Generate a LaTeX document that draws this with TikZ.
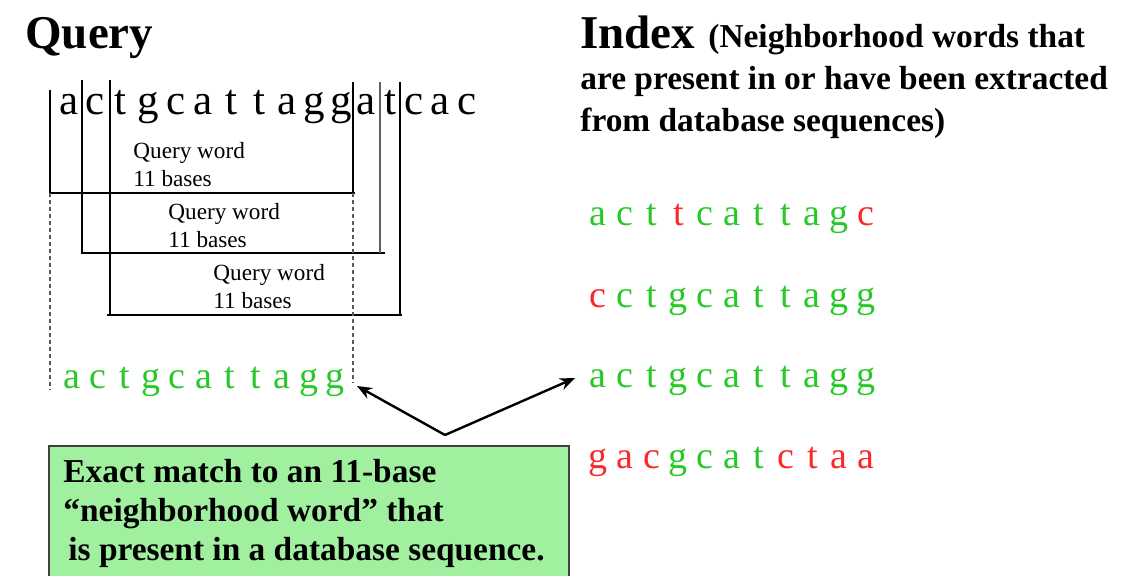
\documentclass[tikz,border=0pt]{standalone}
\usepackage{fontspec}
\setmainfont{Liberation Serif}
\usetikzlibrary{arrows.meta}
\definecolor{ok}{RGB}{40,200,40}
\definecolor{bad}{RGB}{250,40,40}
\definecolor{boxgreen}{RGB}{160,240,160}

\begin{document}
\begin{tikzpicture}[x=0.5pt,y=-0.5pt,
	title/.style={anchor=base west,inner sep=0,font=\fontsize{23.5}{28}\selectfont\bfseries},
	note/.style={anchor=base west,inner sep=0,font=\fontsize{16.7}{20}\selectfont\bfseries},
	base/.style={anchor=base,inner sep=0,font=\fontsize{21.5}{24}\selectfont},
	dbbase/.style={anchor=base,inner sep=0,font=\fontsize{19}{22}\selectfont},
	wordlbl/.style={anchor=base west,inner sep=0,font=\fontsize{11.6}{14}\selectfont},
	bar/.style={line width=0.7pt},
	guide/.style={line width=0.7pt,gray!70!black,dash pattern=on 2pt off 1.5pt},
	link/.style={line width=1.2pt,-{Stealth[length=7.5pt,width=6pt]}}]
				\useasboundingbox (0,0) rectangle (1137,575);
				\clip (0,0) rectangle (1137,575);
				% titles
				\node[title] (qtitle) at (25,48) {Query};
				\node[title] (ititle) at (580,48) {Index};
				\node[note] (note1) at (708,47) {(Neighborhood words that};
				\node[note] (note2) at (580,89) {are present in or have been extracted};
				\node[note] (note3) at (580,131) {from database sequences)};
				% query sequence
				\foreach \l/\x [count=\i] in {a/69,c/95,t/120,g/148,c/176,a/203,t/231,t/259,a/287,g/314,g/341,a/366,t/390,c/414,a/440,c/467}
					\node[base] (s\i) at (\x,114) {\l};
				% query word frames
				\draw[bar] (50,90) -- (50,193) -- (355,193);
				\draw[bar] (353,82) -- (353,193);
				\draw[bar] (82,80) -- (82,253) -- (385,253);
				\draw[line width=1.4pt,gray!75!black] (380,82) -- (380,253);
				\draw[bar] (110,80) -- (110,315);
				\draw[bar] (107,315) -- (402,315);
				\draw[bar] (400,82) -- (400,315);
				\draw[guide] (50,193) -- (50,390);
				\draw[guide] (353,193) -- (353,383);
				\foreach \x/\y [count=\i] in {133/158,168/219,213/280}{
					\node[wordlbl] (qw\i) at (\x,\y) {Query word};
					\node[wordlbl] (qb\i) at (\x,\y+28) {11 bases};
				}
				% matching query word
				\foreach \l [count=\i] in {a,c,t,g,c,a,t,t,a,g,g}
					\node[dbbase,text=ok] (w\i) at ({72+26.3*(\i-1)},388) {\l};
				% index words
				\foreach \y/\seq [count=\r] in {225/{a/ok,c/ok,t/ok,t/bad,c/ok,a/ok,t/ok,t/ok,a/ok,g/ok,c/bad},
						307/{c/bad,c/ok,t/ok,g/ok,c/ok,a/ok,t/ok,t/ok,a/ok,g/ok,g/ok},
						387/{a/ok,c/ok,t/ok,g/ok,c/ok,a/ok,t/ok,t/ok,a/ok,g/ok,g/ok},
						468/{g/bad,a/bad,c/bad,g/ok,c/ok,a/ok,t/ok,c/bad,t/bad,a/bad,a/bad}}
					\foreach \l/\k [count=\i] in \seq
						\node[dbbase,text=\k] (d\r-\i) at ({598+26.8*(\i-1)},\y) {\l};
				% arrows
				\coordinate (apex) at (445,435);
				\coordinate (qhit) at (357,386);
				\coordinate (dbhit) at (575,378);
				\draw[link] (apex) -- (qhit);
				\draw[link] (apex) -- (dbhit);
				% explanation box
				\draw[fill=boxgreen,draw=darkgray,line width=0.6pt] (49,446) rectangle (569,600);
				\node[note] (m1) at (63,482) {Exact match to an 11-base};
				\node[note] (m2) at (63,521) {``neighborhood word'' that};
				\node[note] (m3) at (68,560) {is present in a database sequence.};
			\end{tikzpicture}
\end{document}
